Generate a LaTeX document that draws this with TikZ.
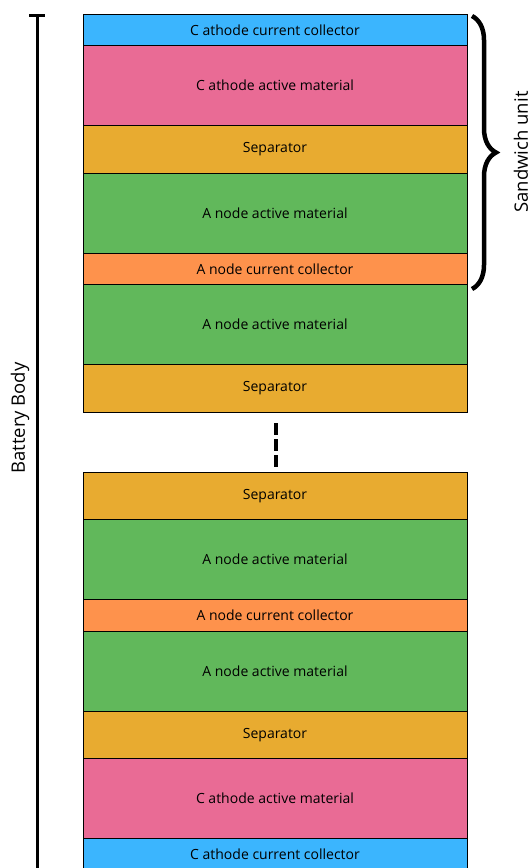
\documentclass[tikz,border=0pt]{standalone}
\usepackage{fontspec}
\setmainfont{Open Sans}
\usetikzlibrary{positioning, decorations.pathreplacing}
\definecolor{ccblue}{HTML}{3BB5FE}
\definecolor{cathpink}{HTML}{E96B95}
\definecolor{sepgold}{HTML}{E8AB30}
\definecolor{anogreen}{HTML}{61B85B}
\definecolor{ccorange}{HTML}{FE924C}
\tikzset {
    x=1pt, y=-1pt,
    layer/.style={draw, line width=1pt, minimum width=384pt, outer sep=0pt,
        inner sep=0pt, font=\fontsize{14}{16}\selectfont},
    cathcc/.style={layer, fill=ccblue, minimum height=31.5pt},
    cathact/.style={layer, fill=cathpink, minimum height=80pt},
    sepbox/.style={layer, fill=sepgold, minimum height=47.5pt},
    anoact/.style={layer, fill=anogreen, minimum height=80pt},
    anocc/.style={layer, fill=ccorange, minimum height=31.5pt},
    sidelabel/.style={rotate=90, font=\fontsize{18.5}{22}\selectfont}
}

\begin{document}
\begin{tikzpicture}
    \useasboundingbox (0,0) rectangle (531,868);

    % upper stack
    \node[cathcc, anchor=north west] (cc1) at (83,14) {C athode current collector};
    \node[cathact, below=0pt of cc1] (ca1) {C athode active material};
    \node[sepbox, below=0pt of ca1] (s1) {Separator};
    \node[anoact, below=0pt of s1] (aa1) {A node active material};
    \node[anocc, below=0pt of aa1] (ac1) {A node current collector};
    \node[anoact, below=0pt of ac1] (aa2) {A node active material};
    \node[sepbox, below=0pt of aa2] (s2) {Separator};

    % lower stack
    \node[sepbox, anchor=north west] (s3) at (83,472) {Separator};
    \node[anoact, below=0pt of s3] (aa3) {A node active material};
    \node[anocc, below=0pt of aa3] (ac2) {A node current collector};
    \node[anoact, below=0pt of ac2] (aa4) {A node active material};
    \node[sepbox, below=0pt of aa4] (s4) {Separator};
    \node[cathact, below=0pt of s4] (ca2) {C athode active material};
    \node[cathcc, below=0pt of ca2] (cc2) {C athode current collector};

    % gap between the stacks
    \draw[line width=4pt, dash pattern=on 12pt off 4pt, shorten <=11pt, shorten >=4pt]
        ([xshift=1pt]s2.south) -- ([xshift=1pt]s3.north);

    % battery body bar
    \coordinate (bodytop) at (37,15);
    \coordinate (bodybot) at (37,880);
    \draw[line width=3pt] (bodytop) -- (bodybot);
    \draw[line width=3pt] ([xshift=-8pt]bodytop) -- ([xshift=8pt]bodytop);
    \node[sidelabel] (body) at (20,418) {Battery Body};

    % sandwich unit brace
    \coordinate (bracetop) at (472,16);
    \coordinate (bracebot) at (472,289);
    \draw[line width=4.5pt, decorate, decoration={brace, amplitude=24pt}]
        (bracetop) -- (bracebot);
    \node[sidelabel] (unit) at (521,152) {Sandwich unit};
\end{tikzpicture}
\end{document}
